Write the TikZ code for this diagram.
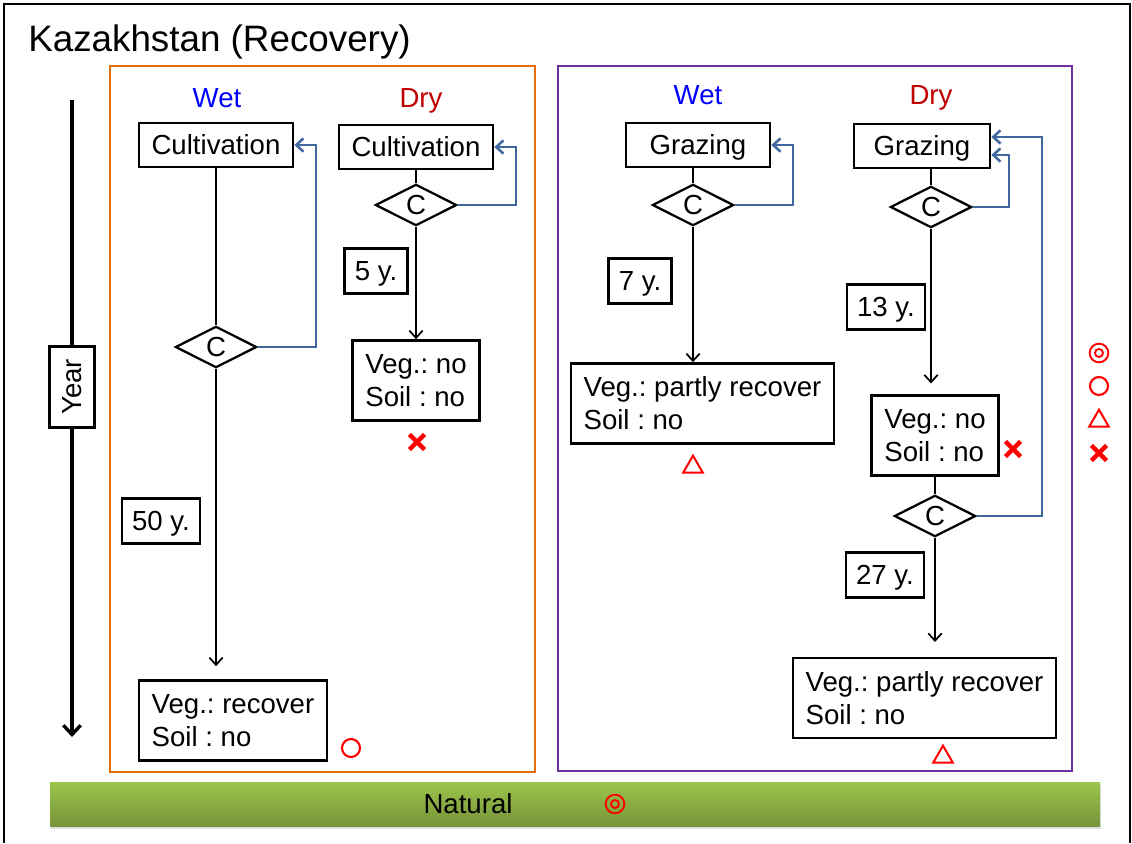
\documentclass[tikz,border=0pt]{standalone}
\usepackage{fontspec}
\setmainfont{Liberation Sans}
\usetikzlibrary{arrows.meta,shapes.geometric,shapes.misc,shadows}
\tikzset{>={Straight Barb[length=5.5pt,width=10pt]}}
\definecolor{panelorange}{HTML}{E46C0A}
\definecolor{panelpurple}{HTML}{7030A0}
\definecolor{loopblue}{HTML}{41689F}
\definecolor{dryred}{HTML}{C00000}
\definecolor{grasslight}{HTML}{9CC64A}
\definecolor{grassdark}{HTML}{76933C}
\newcommand{\WET}[1]{\textcolor{blue}{#1}}
\newcommand{\DRY}[1]{\textcolor{dryred}{#1}}
\frenchspacing

\begin{document}
\begin{tikzpicture}[x=0.75pt, y=-0.75pt,
  font=\fontsize{20.7}{24.8}\selectfont,
  stage/.style={draw, fill=white, line width=2pt, inner xsep=9.4pt,
    minimum height=33pt, text height=14.8pt, text depth=0pt},
  result/.style={draw, fill=white, line width=2pt, inner xsep=9.4pt,
    align=left, minimum height=60pt},
  period/.style={stage, inner xsep=7.5pt, minimum height=34pt},
  check/.style={diamond, draw, fill=white, line width=1.7pt, aspect=2,
    minimum width=61pt, minimum height=31pt, inner sep=0pt},
  flow/.style={->, line width=1.3pt},
  loopback/.style={->, draw=loopblue, line width=1.9pt},
  best/.style={circle, draw=red, line width=1.4pt, minimum size=14pt, inner sep=0pt,
    path picture={\draw[red, line width=1.4pt] (path picture bounding box.center) circle (3pt);}},
  good/.style={circle, draw=red, line width=1.6pt, minimum size=13.5pt, inner sep=0pt},
  fair/.style={regular polygon, regular polygon sides=3, draw=red, line width=1.5pt,
    minimum size=17pt, inner sep=0pt},
  poor/.style={cross out, draw=red, line width=3.4pt, minimum size=8pt, inner sep=0pt}]

  \useasboundingbox (0,0) rectangle (1132,843);

  %% frame and title
  \draw[line width=2.2pt] (4,843) -- (4,4) -- (1130,4) -- (1130,843);
  \node[anchor=base west, inner sep=0pt, font=\fontsize{27.6}{33}\selectfont]
    (title) at (28,51) {Kazakhstan (Recovery)};

  %% panels
  \draw[panelorange, line width=1.9pt] (110,66) rectangle (535,772);
  \draw[panelpurple, line width=1.9pt] (558,66) rectangle (1072,771);

  %% time axis
  \coordinate (ytop) at (72,100);
  \coordinate (ybot) at (72,737);
  \draw[-{Straight Barb[length=7pt,width=13pt]}, line width=2.5pt] (ytop) -- (ybot);
  \node[stage, rotate=90, minimum width=60pt, minimum height=34pt] (year) at (72,387) {Year};

  %% cultivation, wet
  \node[anchor=base] (wetA) at (217,107) {\WET{Wet}};
  \node[stage] (cw) at (216,145) {Cultivation};
  \node[check] (dw) at (216,347) {C};
  \node[period] (p1) at (161,521) {50 y.};
  \node[result] (r1) at (233,720.5) {Veg.: recover\\Soil : no};
  \node[good] (s1) at (351,748) {};
  \draw[line width=1.3pt] (cw.south) -- (dw.north);
  \draw[flow, shorten >=9.75pt] (dw.south) -- (dw.south |- r1.north);
  \draw[loopback] (dw.east) -- ++(58,0) |- (cw.east); %% C -> cultivation

  %% cultivation, dry
  \node[anchor=base] (dryA) at (421,107) {\DRY{Dry}};
  \node[stage] (cd) at (416,147) {Cultivation};
  \node[check] (dd) at (416,205) {C};
  \node[period] (p2) at (376,271) {5 y.};
  \node[result] (r2) at (416,380.5) {Veg.: no\\Soil : no};
  \node[poor] (s2) at (417,442) {};
  \draw[line width=1.3pt] (cd.south) -- (dd.north);
  \draw[flow] (dd.south) -- (r2.north);
  \draw[loopback] (dd.east) -- ++(58,0) |- (cd.east);

  %% grazing, wet
  \node[anchor=base] (wetB) at (698,104) {\WET{Wet}};
  \node[stage, minimum width=108pt] (gw) at (698,145) {Grazing};
  \node[check] (gwd) at (693,205) {C};
  \node[period] (p3) at (640,281) {7 y.};
  \node[result] (r3) at (702.5,403.5) {Veg.: partly recover\\Soil : no};
  \node[fair] (s3) at (693,467) {};
  \draw[line width=1.3pt] (gwd.north |- gw.south) -- (gwd.north);
  \draw[flow] (gwd.south) -- (gwd.south |- r3.north);
  \draw[loopback] (gwd.east) -- ++(58,0) |- (gw.east);

  %% grazing, dry
  \node[anchor=base] (dryB) at (931,104) {\DRY{Dry}};
  \node[stage, minimum width=102pt] (gd) at (922,146) {Grazing};
  \node[check] (gdd1) at (931,207) {C};
  \node[period] (p4) at (886,307) {13 y.};
  \node[result] (r4) at (935,435.5) {Veg.: no\\Soil : no};
  \node[poor] (s4) at (1013,449) {};
  \node[check] (gdd2) at (935,516) {C};
  \node[period] (p5) at (885,575) {27 y.};
  \node[result] (r5) at (924.5,698) {Veg.: partly recover\\Soil : no};
  \node[fair] (s5) at (943,757) {};
  \draw[line width=1.3pt] (gdd1.north |- gd.south) -- (gdd1.north);
  \draw[flow, shorten >=8pt] (gdd1.south) -- (gdd1.south |- r4.north);
  \draw[line width=1.3pt] (r4.south) -- (gdd2.north);
  \draw[flow, shorten >=11pt] (gdd2.south) -- (gdd2.south |- r5.north);
  \draw[loopback] (gdd1.east) -- ++(36,0) |- ([yshift=-6.75pt]gd.east); %% C -> grazing
  \draw[loopback] (gdd2.east) -- ++(65,0) |- ([yshift=6.75pt]gd.east); %% C -> grazing

  %% legend
  \node[best] (l1) at (1099,353) {};
  \node[good] (l2) at (1099,386) {};
  \node[fair] (l3) at (1099,421) {};
  \node[poor] (l4) at (1099,453) {};

  %% natural state
  \node[minimum width=787.5pt, minimum height=33pt, top color=grasslight,
    bottom color=grassdark, drop shadow={opacity=0.25, shadow xshift=1pt, shadow yshift=-2pt}]
    (natbar) at (575,804) {};
  \node[text height=14.8pt, text depth=0pt] (natural) at (468,804) {Natural};
  \node[best] (s6) at (615,804) {};

\end{tikzpicture}
\end{document}
